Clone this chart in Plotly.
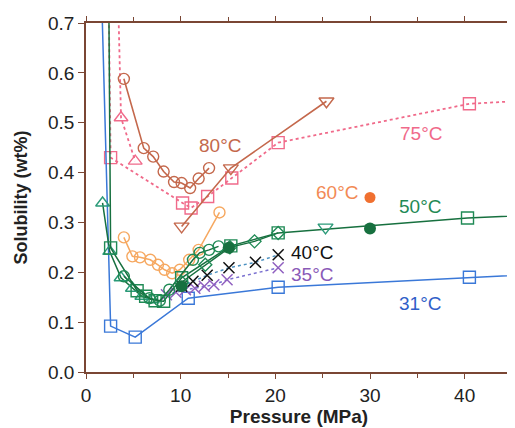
import plotly.graph_objects as go

# ---- data (pressure MPa, solubility wt%) ----
# 31 °C
p31 = [1.3, 2.6, 5.2, 10.8, 20.3, 40.5, 50.0]
s31 = [1.0, 0.092, 0.07, 0.148, 0.170, 0.190, 0.1985]
# 35 °C
p35 = [8.5, 9.5, 10.5, 11.5, 12.5, 13.5, 14.9, 20.3]
s35 = [0.155, 0.160, 0.165, 0.168, 0.172, 0.175, 0.185, 0.209]
# 40 °C
p40 = [10.1, 11.3, 12.8, 15.1, 17.9, 20.3]
s40 = [0.172, 0.182, 0.194, 0.209, 0.220, 0.235]
# 50 °C
p50_tri = [1.75, 2.5, 3.7, 4.9, 5.9, 7.0]
s50_tri = [0.339, 0.242, 0.189, 0.168, 0.152, 0.145]
p50_sq = [2.35, 2.6, 5.4, 6.3, 7.3, 8.2, 10.1, 15.3, 20.3, 40.3, 50.0]
s50_sq = [0.9, 0.249, 0.163, 0.152, 0.143, 0.142, 0.189, 0.253, 0.279, 0.309, 0.317]
p50_ci = [4.0, 6.7, 7.8, 8.8, 11.3, 12.0, 13.0, 14.0]
s50_ci = [0.192, 0.148, 0.143, 0.165, 0.225, 0.239, 0.245, 0.252]
p50_di = [10.1, 12.6, 15.2, 17.8, 20.3]
s50_di = [0.180, 0.215, 0.250, 0.262, 0.279]
p50_fill = [10.1, 15.1, 30.0]
s50_fill = [0.172, 0.249, 0.288]
p50_dn = [25.3]
s50_dn = [0.290]
# 60 °C
p60 = [4.0, 4.9, 5.7, 6.8, 7.6, 8.3, 9.1, 9.9, 10.9, 11.9, 14.1]
s60 = [0.270, 0.232, 0.230, 0.225, 0.215, 0.205, 0.198, 0.205, 0.225, 0.245, 0.320]
p60_fill = [30.0]
s60_fill = [0.350]
# 75 °C
p75_sq = [2.3, 2.6, 10.2, 11.1, 12.85, 15.4, 20.3, 40.5, 50.0]
s75_sq = [0.9, 0.43, 0.339, 0.329, 0.352, 0.389, 0.46, 0.538, 0.548]
p75_tri = [3.2, 3.7, 5.2]
s75_tri = [0.9, 0.51, 0.423]
# 80 °C
p80_ci = [4.0, 6.1, 7.1, 8.2, 9.3, 10.1, 11.0, 11.9, 13.0]
s80_ci = [0.588, 0.449, 0.432, 0.402, 0.381, 0.379, 0.369, 0.388, 0.409]
p80_dn = [10.1, 15.3, 25.4]
s80_dn = [0.292, 0.409, 0.543]

# labels
lab_text = ["80°C", "75°C", "60°C", "50°C", "40°C", "35°C", "31°C"]
lab_p = [14.2, 35.4, 26.5, 35.3, 23.9, 23.9, 35.3]
lab_s = [0.455, 0.478, 0.361, 0.331, 0.239, 0.195, 0.138]

C31 = "#3a78d8"
C35 = "#9060c0"
C40 = "#111111"
C50 = "#1f8a55"
C50t = "#2a9a78"
C50d = "#17703f"
C60 = "#f6a860"
C60f = "#f07030"
C75 = "#f06a8a"
C80 = "#c4684c"
lab_col = [C80, C75, "#f28a55", C50, "#111111", "#8a5ab8", "#3060c8"]

fig = go.Figure()

def add(x, y, color, symbol, size=11, dash="solid", mode="lines+markers", lw=1.3, mcol=None, mlw=1.4):
    mc = mcol or color
    fig.add_trace(go.Scatter(
        x=x, y=y, mode=mode,
        line=dict(color=color, width=lw, dash=dash),
        marker=dict(symbol=symbol, size=size, color=mc,
                    line=dict(color=mc, width=mlw)),
        showlegend=False, cliponaxis=True))

# 75 °C (dotted pink)
add(p75_sq, s75_sq, C75, "square-open", 12, dash="dot", lw=1.8)
add(p75_tri, s75_tri, C75, "triangle-up-open", 12, dash="dot", lw=1.8)
# 80 °C
add(p80_ci, s80_ci, C80, "circle-open", 11, lw=1.6)
add(p80_dn, s80_dn, C80, "triangle-down-open", 13, lw=1.6)
# 60 °C
add(p60, s60, C60, "circle-open", 11, lw=1.5)
add(p60_fill, s60_fill, C60f, "circle", 11, mode="markers", mlw=0)
# 31 °C
add(p31, s31, C31, "square-open", 12, lw=1.5)
# 35 °C
add(p35, s35, "#7a70d0", "x-thin-open", 11, dash="dot", lw=1.5, mcol=C35, mlw=1.5)
# 40 °C
add(p40, s40, "#4a90c0", "x-thin-open", 11, dash="dot", lw=1.5, mcol=C40, mlw=1.5)
# 50 °C
add(p50_tri, s50_tri, C50d, "triangle-up-open", 12, lw=1.5, mcol=C50t)
add(p50_sq, s50_sq, C50d, "square-open", 12, lw=1.5, mcol=C50)
add(p50_ci, s50_ci, C50d, "circle-open", 11, lw=1.5, mcol=C50)
add(p50_di, s50_di, C50d, "diamond-open", 10, lw=1.5, mcol=C50)
add(p50_dn, s50_dn, C50t, "triangle-down-open", 13, mode="markers")
add(p50_fill, s50_fill, C50d, "circle", 12, mode="markers", mlw=0)

for t, x, y, c in zip(lab_text, lab_p, lab_s, lab_col):
    fig.add_annotation(x=x, y=y, text=t, showarrow=False,
                       font=dict(family="Liberation Sans, Arial", size=19, color=c),
                       xanchor="center", yanchor="middle")

axcol = "#7a4634"
fig.update_xaxes(range=[0, 45], tickvals=[0, 10, 20, 30, 40], showgrid=False, zeroline=False,
                 showline=True, linecolor=axcol, linewidth=1.5, mirror="allticks",
                 ticks="outside", ticklen=5, tickcolor=axcol, tickwidth=1.3,
                 minor=dict(tickvals=[5, 15, 25, 35, 45], ticks="outside", ticklen=4,
                            tickcolor=axcol, tickwidth=1.3),
                 tickfont=dict(family="Liberation Sans, Arial", size=19, color="#222"),
                 title=dict(text="<b>Pressure (MPa)</b>", standoff=4,
                            font=dict(family="Liberation Sans, Arial", size=19, color="#222")))
fig.update_yaxes(range=[0, 0.7], tickvals=[0, 0.1, 0.2, 0.3, 0.4, 0.5, 0.6, 0.7],
                 tickformat=".1f", showgrid=False, zeroline=False,
                 showline=True, linecolor=axcol, linewidth=1.5, mirror="allticks",
                 ticks="outside", ticklen=6, tickcolor=axcol, tickwidth=1.3,
                 tickfont=dict(family="Liberation Sans, Arial", size=19, color="#222"),
                 title=dict(text="<b>Solubility (wt%)</b>", standoff=16,
                            font=dict(family="Liberation Sans, Arial", size=18, color="#222")))

fig.update_layout(width=515, height=428, margin=dict(l=78, r=3, t=15, b=64),
                  plot_bgcolor="white", paper_bgcolor="white")

fig.write_html("out.html")
